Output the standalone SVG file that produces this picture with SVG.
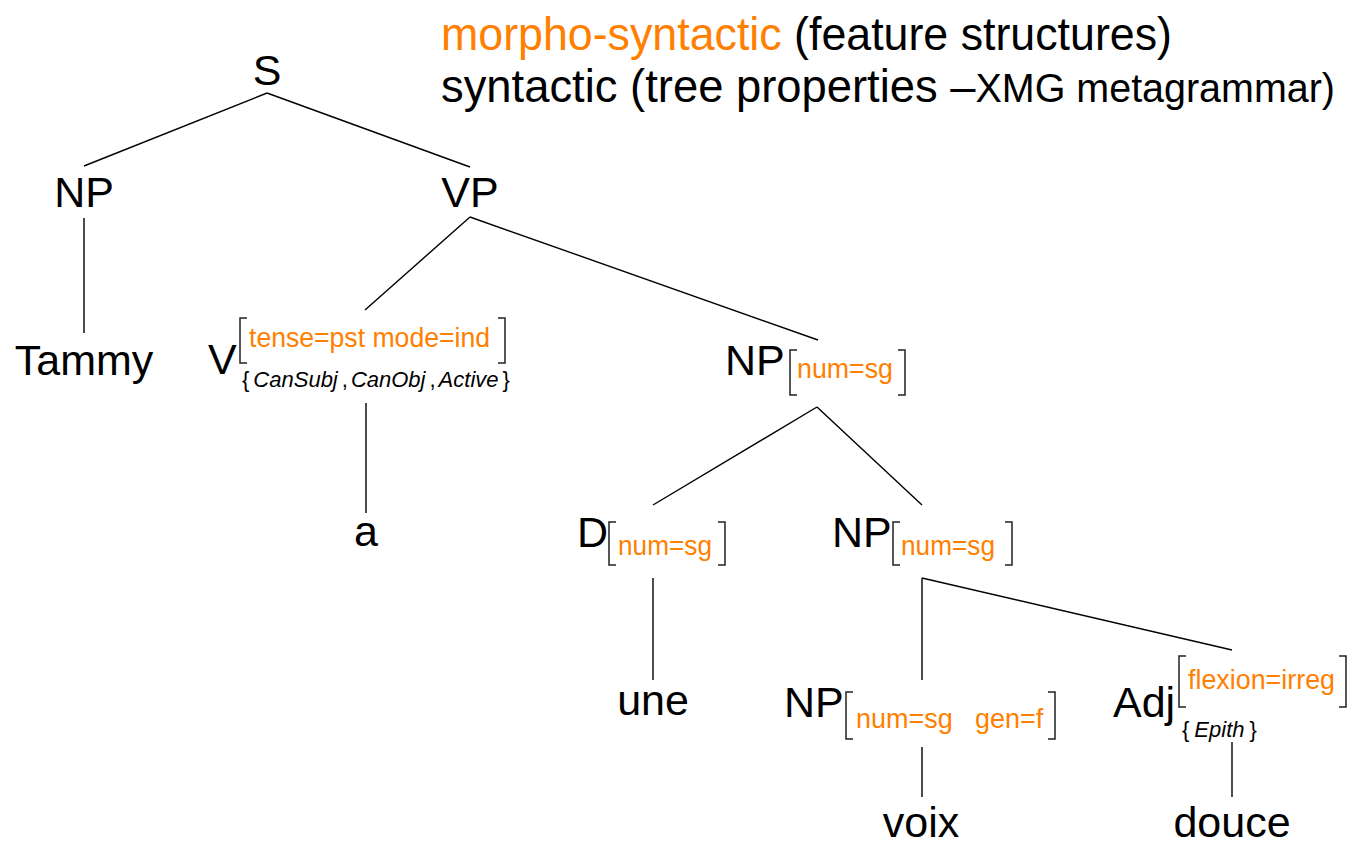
<svg xmlns="http://www.w3.org/2000/svg" width="1364" height="844" viewBox="0 0 1364 844">
<style>
.lbl{font-family:"Liberation Sans",Arial,sans-serif;font-size:43px;fill:#000;text-anchor:middle}
.lbll{font-family:"Liberation Sans",Arial,sans-serif;font-size:43px;fill:#000}
.feat{font-family:"Liberation Sans",Arial,sans-serif;font-size:27px;fill:#ff8000}
.set{font-family:"Liberation Sans",Arial,sans-serif;font-size:22px;fill:#000}
.it{font-style:italic}
.hdr{font-family:"Liberation Sans",Arial,sans-serif;font-size:46px;fill:#000}
.org{fill:#ff8000}
.edge{stroke:#000;stroke-width:1.4;fill:none}
.br{stroke:#222;stroke-width:1.5;fill:none}
</style>
<rect width="1364" height="844" fill="#fff"/>
<g id="legend">
<text class="hdr" x="441" y="50" textLength="731" lengthAdjust="spacingAndGlyphs"><tspan class="org">morpho-syntactic</tspan> (feature structures)</text>
<text class="hdr" x="441" y="102" textLength="894" lengthAdjust="spacingAndGlyphs"><tspan>syntactic (tree properties –</tspan><tspan font-size="40">XMG metagrammar)</tspan></text>
</g>
<g id="connectors">
<path class="edge" d="M267,93 L84,166 M267,93 L470,167"/>
<path class="edge" d="M84,218 L84,333"/>
<path class="edge" d="M470,217 L365,310 M470,217 L818,340"/>
<path class="edge" d="M366,403 L366,513"/>
<path class="edge" d="M817,407 L653,505 M817,407 L922,505"/>
<path class="edge" d="M653,578 L653,680"/>
<path class="edge" d="M922,578 L922,680 M922,578 L1232,650"/>
<path class="edge" d="M922,747 L922,797"/>
<path class="edge" d="M1232,742 L1232,797"/>
</g>
<g id="node-S"><text class="lbl" x="267" y="85">S</text></g>
<g id="node-NP1"><text class="lbl" x="84" y="207">NP</text></g>
<g id="node-VP"><text class="lbl" x="470" y="207">VP</text></g>
<g id="node-Tammy"><text class="lbl" x="84" y="375">Tammy</text></g>
<g id="node-V">
<text class="lbll" x="208" y="374">V</text>
<path class="br" d="M247,318 H240 V363 H247 M498,318 H505 V363 H498"/>
<text class="feat" x="249" y="347" textLength="241" lengthAdjust="spacingAndGlyphs">tense=pst mode=ind</text>
<text class="set" x="242" y="387">{<tspan class="it" dx="4">CanSubj</tspan><tspan dx="4">,</tspan><tspan class="it" dx="3">CanObj</tspan><tspan dx="4">,</tspan><tspan class="it" dx="3">Active</tspan><tspan dx="4">}</tspan></text>
</g>
<g id="node-a"><text class="lbl" x="366" y="546">a</text></g>
<g id="node-NP2">
<text class="lbll" x="725" y="375">NP</text>
<path class="br" d="M797,350 H790 V395 H797 M898,350 H905 V395 H898"/>
<text class="feat" x="797" y="378" textLength="96" lengthAdjust="spacingAndGlyphs">num=sg</text>
</g>
<g id="node-D">
<text class="lbll" x="577" y="547">D</text>
<path class="br" d="M616,522 H609 V565 H616 M718,522 H725 V565 H718"/>
<text class="feat" x="618" y="555" textLength="94" lengthAdjust="spacingAndGlyphs">num=sg</text>
</g>
<g id="node-NP3">
<text class="lbll" x="832" y="547">NP</text>
<path class="br" d="M900,522 H893 V565 H900 M1005,522 H1012 V565 H1005"/>
<text class="feat" x="901" y="555" textLength="94" lengthAdjust="spacingAndGlyphs">num=sg</text>
</g>
<g id="node-une"><text class="lbl" x="653" y="715">une</text></g>
<g id="node-NP4">
<text class="lbll" x="784" y="717">NP</text>
<path class="br" d="M853,692 H846 V739 H853 M1048,692 H1055 V739 H1048"/>
<text class="feat" x="856" y="728">num=sg</text>
<text class="feat" x="975" y="728">gen=f</text>
</g>
<g id="node-Adj">
<text class="lbll" x="1113" y="717">Adj</text>
<path class="br" d="M1186,656 H1179 V707 H1186 M1339,656 H1346 V707 H1339"/>
<text class="feat" x="1188" y="689" textLength="147" lengthAdjust="spacingAndGlyphs">flexion=irreg</text>
<text class="set" x="1182" y="737">{<tspan class="it" dx="5">Epith</tspan><tspan dx="5">}</tspan></text>
</g>
<g id="node-voix"><text class="lbl" x="921" y="837">voix</text></g>
<g id="node-douce"><text class="lbl" x="1232" y="837">douce</text></g>
</svg>
